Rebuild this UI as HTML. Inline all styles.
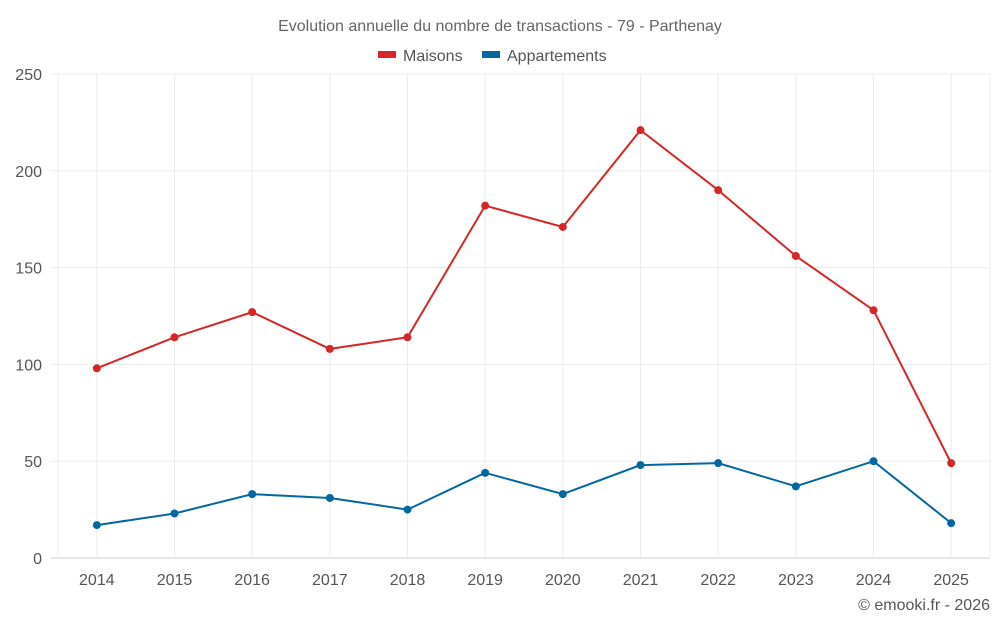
<!DOCTYPE html>
<html><head><meta charset="utf-8"><style>
html,body{margin:0;padding:0;background:#fff;}
svg{display:block;font-family:"Liberation Sans",sans-serif;}
</style></head><body>
<svg id="chart" width="1000" height="625">
<text x="500" y="31" text-anchor="middle" font-size="16" fill="#666">Evolution annuelle du nombre de transactions - 79 - Parthenay</text>
<g>
<g><rect x="378" y="51" width="18" height="7" fill="#d62728"/><text x="403" y="61" font-size="16" fill="#555">Maisons</text></g>
<g><rect x="482" y="51" width="18" height="7" fill="#04679f"/><text x="507" y="61" font-size="16" fill="#555">Appartements</text></g>
</g>
<g id="grid"></g><g id="axes"></g><g id="series"></g>
<text x="990" y="610" text-anchor="end" font-size="16" fill="#555">© emooki.fr - 2026</text>
</svg>
<script>
const categories=["2014","2015","2016","2017","2018","2019","2020","2021","2022","2023","2024","2025"];
const maisons=[98,114,127,108,114,182,171,221,190,156,128,49];
const appartements=[17,23,33,31,25,44,33,48,49,37,50,18];
const yTicks=[0,50,100,150,200,250];
const L=58,R=990,T=74,B=558,yMax=250;
const NS="http://www.w3.org/2000/svg";
const band=(R-L)/categories.length;
function x(i){return L+band*(i+0.5);}
function y(v){return B-(v/yMax)*(B-T);}
function mk(tag,attrs,parent){const e=document.createElementNS(NS,tag);for(const k in attrs)e.setAttribute(k,attrs[k]);parent.appendChild(e);return e;}
const grid=document.getElementById('grid'),axes=document.getElementById('axes'),ser=document.getElementById('series');
yTicks.forEach(t=>{
 const l=mk('line',{x1:L-7,x2:R,y1:y(t),y2:y(t),stroke:t===0?'#ccc':'#ececec','stroke-width':1},grid);
 
 
 const tx=mk('text',{x:L-16,y:y(t)+6,'text-anchor':'end','font-size':16,fill:'#555'},axes);
 tx.textContent=t;
 
 
});
[L,R].forEach(xx=>{
 const l=mk('line',{x1:xx,x2:xx,y1:T,y2:B,stroke:'#ececec','stroke-width':1},grid);
 
 
});
categories.forEach((c,i)=>{
 const l=mk('line',{x1:x(i),x2:x(i),y1:T,y2:B,stroke:'#ececec','stroke-width':1},grid);
 
 
 const tx=mk('text',{x:x(i),y:585,'text-anchor':'middle','font-size':16,fill:'#555'},axes);
 tx.textContent=c;
 
 
});
function drawSeries(vals,color,name){
 const p=mk('polyline',{points:vals.map((v,i)=>x(i)+','+y(v)).join(' '),fill:'none',stroke:color,'stroke-width':2},ser);
 
 
 vals.forEach((v,i)=>{
  const c=mk('circle',{cx:x(i),cy:y(v),r:4,fill:color},ser);
  
  
 });
}
drawSeries(maisons,'#d62728','maisons');
drawSeries(appartements,'#04679f','appartements');
</script>
</body></html>
